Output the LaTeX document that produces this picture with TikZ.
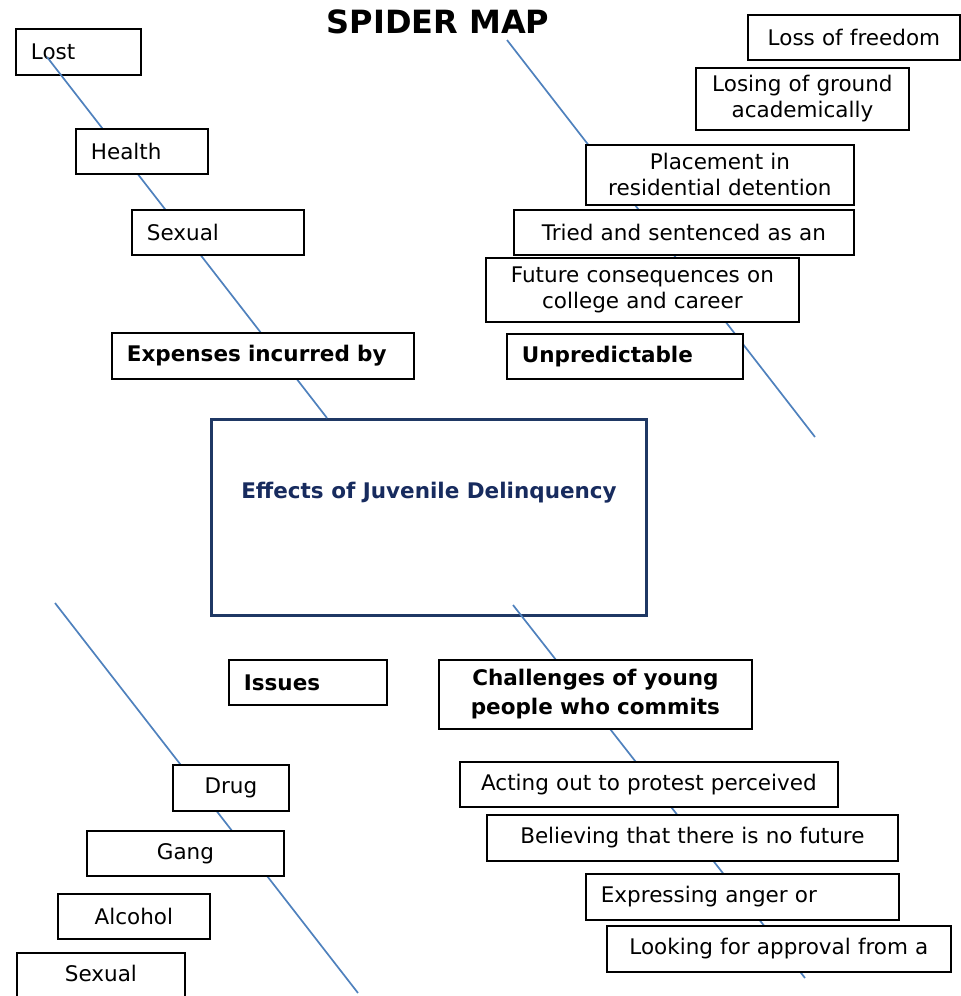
\documentclass[tikz,border=0pt]{standalone}
\usepackage{fontspec}
\setmainfont{DejaVu Sans}
\definecolor{legblue}{RGB}{79,129,189}
\definecolor{hubnavy}{RGB}{31,56,100}
\definecolor{hubtext}{RGB}{23,43,94}
\begin{document}
\begin{tikzpicture}[x=1pt,y=-1pt,
  box/.style={draw=black,fill=white,line width=1.8pt,anchor=north west,inner ysep=0pt,
    font=\fontsize{21.5}{26}\selectfont},
  lbox/.style={box,inner xsep=15pt,align=left},
  cbox/.style={box,inner xsep=4pt,align=center},
  bold/.style={font=\fontsize{21.5}{29}\selectfont\bfseries},
  leg/.style={color=legblue,line width=1.7pt}]
  \useasboundingbox (0,0) rectangle (961,996);
  \node[font=\fontsize{32}{36}\selectfont\bfseries] (title) at (438,22) {SPIDER MAP};
  \node[draw=hubnavy,fill=white,line width=3pt,anchor=north west,minimum width=435pt,
    minimum height=196pt,text depth=54pt,text=hubtext,
    font=\fontsize{21.5}{26}\selectfont\bfseries] (effects) at (210,418)
    {Effects of Juvenile Delinquency};
  \node[lbox,text width=95pt,minimum height=46pt] (lost) at (15,28) {Lost};
  \coordinate (tip1) at (47,57);
  \coordinate (tip2a) at (507,40);
  \coordinate (tip2b) at (815,437);
  \coordinate (tip3a) at (55,603);
  \coordinate (tip3b) at (358,993);
  \coordinate (tip4) at (805,978);
  \draw[leg] (tip1) -- ([xshift=117pt]effects.north west);
  \draw[leg] (tip2a) -- (tip2b);
  \draw[leg] (tip3a) -- (tip3b);
  \draw[leg] ([xshift=303pt,yshift=12pt]effects.south west) -- (tip4);
  % upper left
  \node[lbox,text width=102pt,minimum height=45pt] (health) at (75,128) {Health};
  \node[lbox,text width=142pt,minimum height=45pt] (sexualA) at (131,209) {Sexual};
  \node[lbox,bold,text width=272pt,minimum height=46pt] (expenses) at (111,332) {Expenses incurred by};
  % upper right
  \node[cbox,text width=204pt,minimum height=45pt] (freedom) at (747,14) {Loss of freedom};
  \node[cbox,text width=205pt,minimum height=62pt] (ground) at (695,67) {Losing of ground\\academically};
  \node[cbox,text width=260pt,minimum height=60pt] (placement) at (585,144) {Placement in\\residential detention};
  \node[cbox,text width=332pt,minimum height=45pt] (tried) at (513,209) {Tried and sentenced as an};
  \node[cbox,text width=305pt,minimum height=64pt] (future) at (485,257) {Future consequences on\\college and career};
  \node[lbox,bold,text width=206pt,minimum height=45pt] (unpredictable) at (506,333) {Unpredictable};
  % lower left
  \node[lbox,bold,text width=128pt,minimum height=45pt] (issues) at (228,659) {Issues};
  \node[cbox,text width=108pt,minimum height=46pt] (drug) at (172,764) {Drug};
  \node[cbox,text width=189pt,minimum height=45pt] (gang) at (86,830) {Gang};
  \node[cbox,text width=144pt,minimum height=45pt] (alcohol) at (57,893) {Alcohol};
  \node[cbox,text width=160pt,minimum height=54pt,text depth=14pt] (sexualB) at (16,952) {Sexual};
  % lower right
  \node[cbox,bold,text width=305pt,minimum height=69pt] (challenges) at (438,659) {Challenges of young\\people who commits};
  \node[cbox,text width=370pt,minimum height=45pt] (acting) at (459,761) {Acting out to protest perceived};
  \node[cbox,text width=403pt,minimum height=46pt] (believing) at (486,814) {Believing that there is no future};
  \node[lbox,text width=283pt,minimum height=46pt] (expressing) at (585,873) {Expressing anger or};
  \node[cbox,text width=336pt,minimum height=46pt] (looking) at (606,925) {Looking for approval from a};
\end{tikzpicture}
\end{document}
